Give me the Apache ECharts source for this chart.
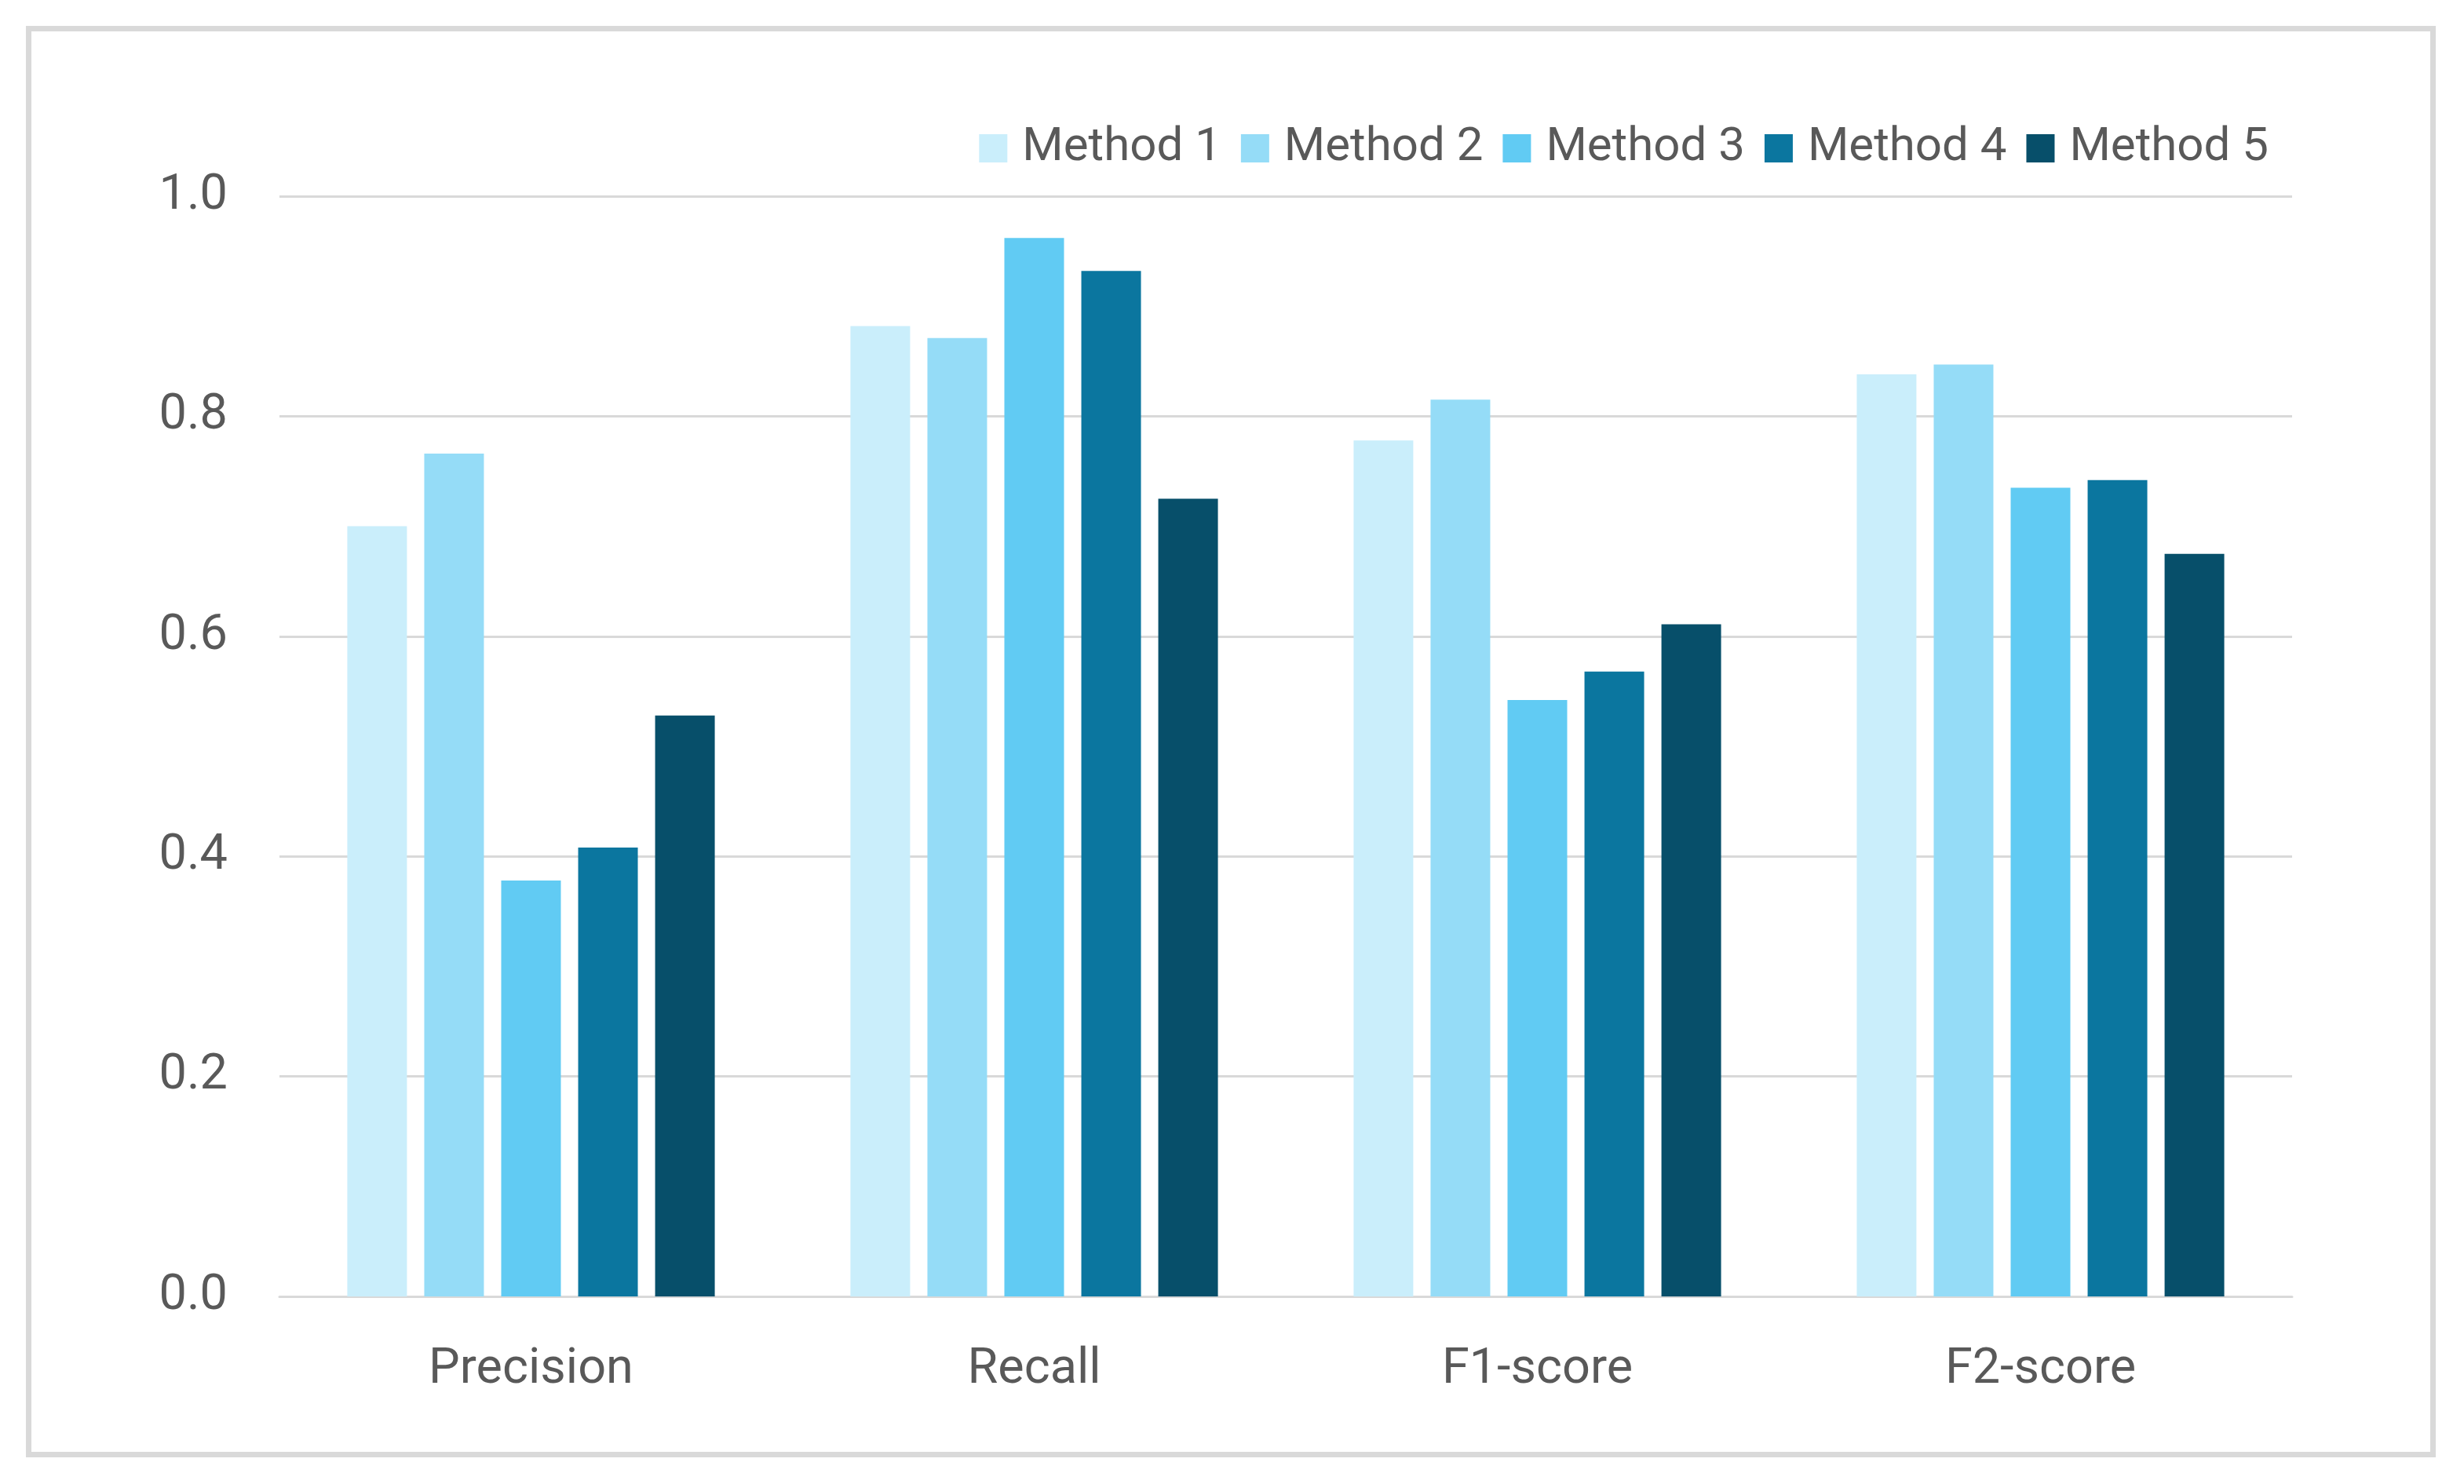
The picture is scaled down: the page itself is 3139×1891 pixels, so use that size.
<!DOCTYPE html>
<html>
<head>
<meta charset="utf-8">
<script src="https://cdn.jsdelivr.net/npm/echarts@6/dist/echarts.min.js"></script>
<style>
  html, body { margin: 0; padding: 0; background: #ffffff; }
  #chart { width: 3139px; height: 1891px; }
</style>
</head>
<body>
<div id="chart"></div>
<script>
// Données
const categories = ['Precision', 'Recall', 'F1-score', 'F2-score'];
const methodNames = ['Method 1', 'Method 2', 'Method 3', 'Method 4', 'Method 5'];
const method1 = [0.700, 0.882, 0.778, 0.838];
const method2 = [0.766, 0.871, 0.815, 0.847];
const method3 = [0.378, 0.962, 0.542, 0.735];
const method4 = [0.408, 0.932, 0.568, 0.742];
const method5 = [0.528, 0.725, 0.611, 0.675];
const yTicks = [0, 0.2, 0.4, 0.6, 0.8, 1.0];

const palette = ['#caeefb', '#95dcf7', '#61cbf3', '#0b769f', '#074f6a'];
const textColor = '#595959';
const gridColor = '#d9d9d9';

const seriesValues = [method1, method2, method3, method4, method5];

function buildOption() {
    return {
        backgroundColor: '#ffffff',
        animation: false,
        color: palette,
        graphic: [
            {
                type: 'rect',
                z: -1,
                shape: { x: 36.5, y: 36.5, width: 3063, height: 1817 },
                style: { fill: 'none', stroke: gridColor, lineWidth: 7 }
            }
        ],
        legend: {
            data: methodNames,
            right: 244,
            top: 154,
            itemWidth: 36,
            itemHeight: 36,
            itemGap: 25,
            icon: 'rect',
            textStyle: {
                fontFamily: 'Roboto',
                fontSize: 60,
                color: textColor,
                padding: [0, 0, 0, 14]
            }
        },
        grid: {
            left: 356,
            right: 219,
            top: 250,
            bottom: 239,
            containLabel: false
        },
        xAxis: {
            type: 'category',
            data: categories,
            axisTick: { show: false },
            axisLine: { lineStyle: { color: gridColor, width: 3 } },
            axisLabel: {
                fontFamily: 'Roboto',
                fontSize: 63,
                color: textColor,
                margin: 63
            }
        },
        yAxis: {
            type: 'value',
            min: yTicks[0],
            max: yTicks[yTicks.length - 1],
            interval: 0.2,
            axisLine: { show: false },
            axisTick: { show: false },
            splitLine: { lineStyle: { color: gridColor, width: 3 } },
            axisLabel: {
                fontFamily: 'Roboto',
                fontSize: 63,
                color: textColor,
                margin: 66,
                formatter: v => v.toFixed(1)
            }
        },
        series: methodNames.map((name, i) => ({
            name: name,
            type: 'bar',
            barWidth: 76,
            barGap: '29%',
            data: seriesValues[i]
        }))
    };
}

const dom = document.getElementById('chart');
const myChart = echarts.init(dom);
myChart.setOption(buildOption());
</script>
</body>
</html>
